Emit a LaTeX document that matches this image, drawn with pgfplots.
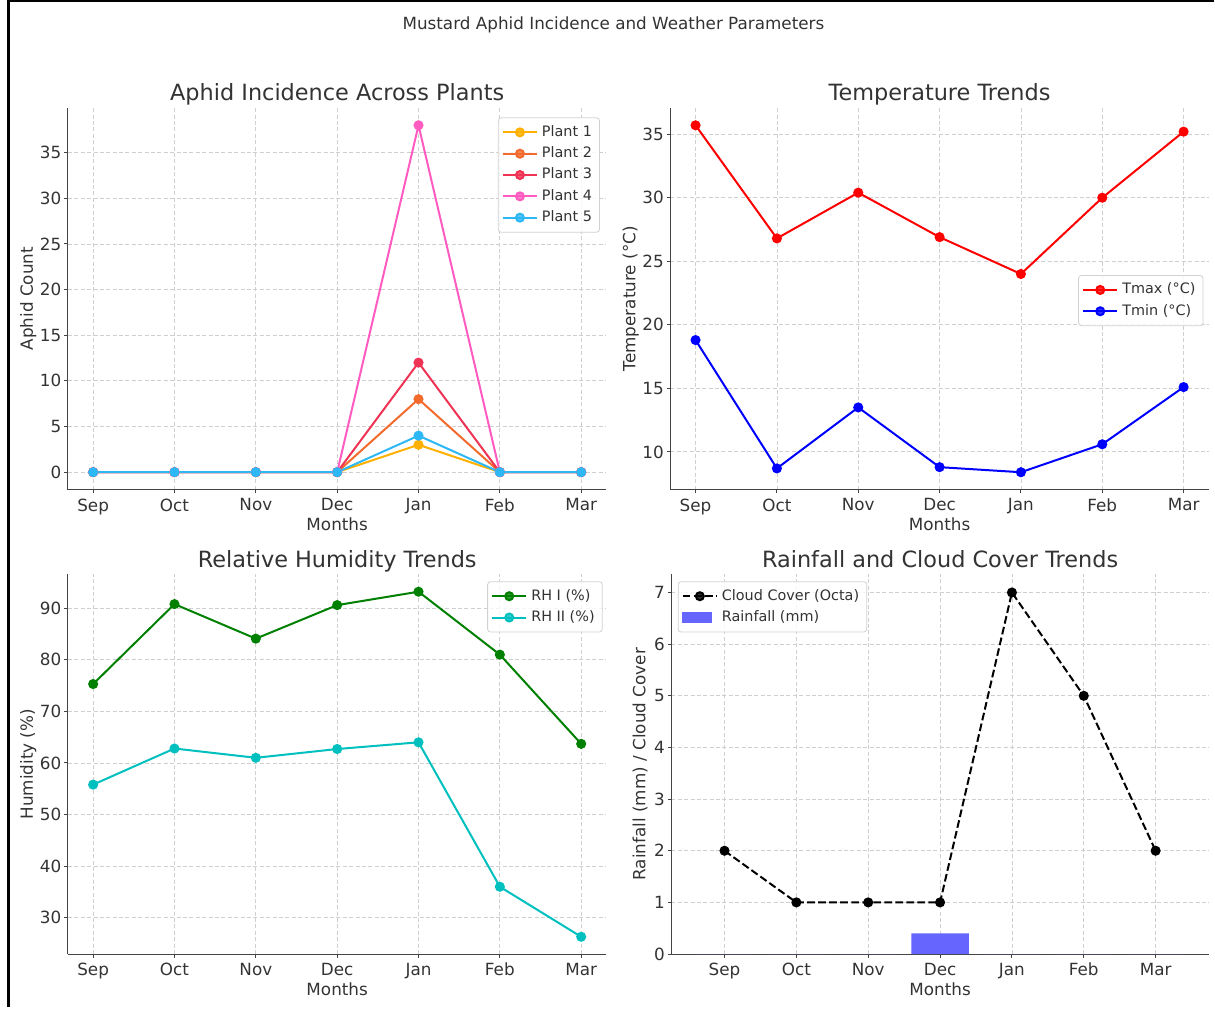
\documentclass[border=0pt]{standalone}
\usepackage{pgfplots}
\pgfplotsset{compat=1.18}
\usepackage{fontspec}
\setmainfont{DejaVu Sans}
\definecolor{txt}{HTML}{333333}
\definecolor{spine}{HTML}{444444}
\definecolor{gridc}{HTML}{CFCFCF}
\definecolor{pA}{HTML}{FFB000}
\definecolor{pB}{HTML}{F26B2C}
\definecolor{pC}{HTML}{EE3355}
\definecolor{pD}{HTML}{FF5BC1}
\definecolor{pE}{HTML}{2DB8F5}
\definecolor{rhII}{HTML}{00BFBF}
\definecolor{rhI}{HTML}{008000}
\definecolor{rain}{HTML}{6666FF}
\pgfplotsset{
  panel/.style={
    scale only axis,
    anchor=north west,
    axis lines=left,
    axis line style={-, spine, line width=0.5pt},
    tick align=outside,
    major tick length=1.9pt,
    tick style={spine, line width=0.5pt},
    xtick pos=bottom, ytick pos=left,
    grid=major,
    major grid style={gridc, line width=0.4pt, dash pattern=on 2pt off 1.2pt},
    xtick={0,...,6},
    xticklabels={Sep,Oct,Nov,Dec,Jan,Feb,Mar},
    tick label style={font=\fontsize{8.4}{9}\selectfont, color=txt},
    xticklabel style={yshift=0.9pt},
    yticklabel style={inner xsep=1.2pt},
    /pgf/number format/assume math mode=true,
    xlabel={Months},
    every axis x label/.style={at={(axis description cs:0.5,0)}, anchor=base, yshift=-20.5pt, font=\fontsize{8.4}{9}\selectfont, color=txt},
    every axis y label/.style={at={(axis description cs:0,0.5)}, xshift=-\ylabshift, rotate=90, anchor=base, font=\fontsize{8.4}{9}\selectfont, color=txt},
    every axis title/.style={at={(axis description cs:0.5,1)}, anchor=base, yshift=3.6pt, font=\fontsize{11.2}{12}\selectfont, color=txt},
    legend style={font=\fontsize{7.2}{8.5}\selectfont, text=txt, draw=black!18, rounded corners=1.5pt, fill=white, fill opacity=0.8, text opacity=1, inner sep=1.8pt, row sep=-0.3pt},
    legend cell align=left,
    every axis plot/.append style={line width=1pt, mark size=2pt},
  },
}
\newlength\ylabshift
\setlength\ylabshift{17.5pt}
\begin{document}
\begin{tikzpicture}
\path (0,0) rectangle (607.5pt,-504pt);
\draw[black, line width=1.2pt] (4.3pt,-504pt) -- (4.3pt,-0.6pt) -- (607.5pt,-0.6pt);
\node[font=\fontsize{8.4}{9}\selectfont, color=txt] at (307pt,-12.4pt) {Mustard Aphid Incidence and Weather Parameters};

% Top-left
\begin{axis}[panel, at={(34pt,-54pt)}, width=269.5pt, height=191pt,
  xmin=-0.31, xmax=6.31, ymin=-1.9, ymax=39.9,
  ytick={0,5,...,35},
  ylabel={Aphid Count},
  title={Aphid Incidence Across Plants},
  legend style={at={(0.988,0.975)}, anchor=north east}]
\addplot[pA, mark=*] coordinates {(0,0) (1,0) (2,0) (3,0) (4,3) (5,0) (6,0)};
\addlegendentry{Plant 1}
\addplot[pB, mark=*] coordinates {(0,0) (1,0) (2,0) (3,0) (4,8) (5,0) (6,0)};
\addlegendentry{Plant 2}
\addplot[pC, mark=*] coordinates {(0,0) (1,0) (2,0) (3,0) (4,12) (5,0) (6,0)};
\addlegendentry{Plant 3}
\addplot[pD, mark=*] coordinates {(0,0) (1,0) (2,0) (3,0) (4,38) (5,0) (6,0)};
\addlegendentry{Plant 4}
\addplot[pE, mark=*] coordinates {(0,0) (1,0) (2,0) (3,0) (4,4) (5,0) (6,0)};
\addlegendentry{Plant 5}
\end{axis}

% Top-right
\begin{axis}[panel, at={(335.5pt,-54pt)}, width=269.5pt, height=191pt,
  xmin=-0.31, xmax=6.31, ymin=7.04, ymax=37.07,
  ytick={10,15,...,35},
  ylabel={Temperature (°C)},
  title={Temperature Trends},
  legend style={at={(0.99,0.495)}, anchor=east}]
\addplot[red, mark=*] coordinates {(0,35.7) (1,26.8) (2,30.4) (3,26.9) (4,24.0) (5,30.0) (6,35.2)};
\addlegendentry{Tmax (°C)}
\addplot[blue, mark=*] coordinates {(0,18.8) (1,8.7) (2,13.5) (3,8.8) (4,8.4) (5,10.6) (6,15.1)};
\addlegendentry{Tmin (°C)}
\end{axis}

% Bottom-left
\begin{axis}[panel, at={(34pt,-287.5pt)}, width=269.5pt, height=190pt,
  xmin=-0.31, xmax=6.31, ymin=22.95, ymax=96.55,
  ytick={30,40,...,90},
  ylabel={Humidity (\%)},
  title={Relative Humidity Trends},
  legend style={at={(0.993,0.982)}, anchor=north east}]
\addplot[rhI, mark=*] coordinates {(0,75.3) (1,90.8) (2,84.1) (3,90.6) (4,93.2) (5,81.0) (6,63.7)};
\addlegendentry{RH I (\%)}
\addplot[rhII, mark=*] coordinates {(0,55.8) (1,62.8) (2,61.0) (3,62.7) (4,64.0) (5,36.0) (6,26.3)};
\addlegendentry{RH II (\%)}
\end{axis}

% Bottom-right
\setlength\ylabshift{13pt}
\begin{axis}[panel, at={(336pt,-287.5pt)}, width=269pt, height=190pt,
  xmin=-0.74, xmax=6.74, ymin=0, ymax=7.35,
  ytick={0,1,...,7},
  ylabel={Rainfall (mm) / Cloud Cover},
  title={Rainfall and Cloud Cover Trends},
  legend style={at={(0.012,0.982)}, anchor=north west}]
\addplot[ybar, bar width=0.8, fill=rain, draw=none, forget plot] coordinates {(0,0) (1,0) (2,0) (3,0.4) (4,0) (5,0) (6,0)};
\addplot[black, mark=*, dash pattern=on 3.85pt off 1.67pt, mark options={solid}] coordinates {(0,2) (1,1) (2,1) (3,1) (4,7) (5,5) (6,2)};
\addlegendentry{Cloud Cover (Octa)}
\addlegendimage{legend image code/.code={\fill[rain, sharp corners, fill opacity=1] (0pt,-2.3pt) rectangle (14pt,2.3pt);}}
\addlegendentry{Rainfall (mm)}
\end{axis}
\end{tikzpicture}
\end{document}
